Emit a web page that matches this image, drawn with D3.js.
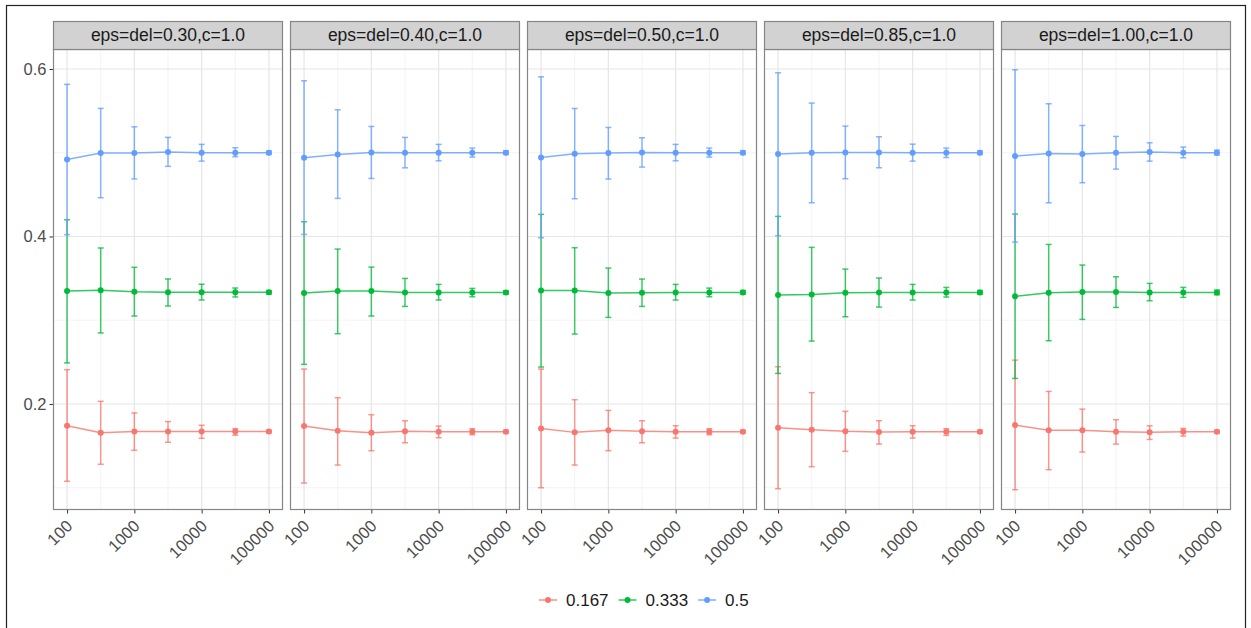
<!DOCTYPE html>
<html>
<head>
<meta charset="utf-8">
<script src="https://cdn.jsdelivr.net/npm/d3@7"></script>
<style>
  body { margin: 0; background: #fff; }
  svg { display: block; font-family: "Liberation Sans", Arial, sans-serif; }
</style>
</head>
<body>
<div id="chart"></div>
<script>
// facet labels, x values and groups
var facets = ["eps=del=0.30,c=1.0", "eps=del=0.40,c=1.0", "eps=del=0.50,c=1.0", "eps=del=0.85,c=1.0", "eps=del=1.00,c=1.0"];
var nValues = [100, 316, 1000, 3162, 10000, 31623, 100000];
var groups = ["0.167", "0.333", "0.5"];
var groupColors = ["#F8766D", "#00BA38", "#619CFF"];
var xTicks = [100, 1000, 10000, 100000];
var yTicks = [0.2, 0.4, 0.6];
var yMinor = [0.1, 0.3, 0.5];

// one row per facet, one value per n
var mean167 = [
  [0.174, 0.1657, 0.167, 0.167, 0.167, 0.167, 0.167],
  [0.1736, 0.1681, 0.1657, 0.1673, 0.1669, 0.1669, 0.1669],
  [0.1708, 0.1661, 0.1685, 0.1673, 0.1669, 0.1669, 0.1669],
  [0.1716, 0.1692, 0.1673, 0.1665, 0.1669, 0.1669, 0.1669],
  [0.1748, 0.1685, 0.1685, 0.1669, 0.1661, 0.1669, 0.1669]
];
var lo167 = [
  [0.1077, 0.128, 0.1447, 0.1543, 0.159, 0.1627, 0.1653],
  [0.1056, 0.1271, 0.1442, 0.1537, 0.1597, 0.1633, 0.1653],
  [0.100, 0.1271, 0.1442, 0.1537, 0.1593, 0.1633, 0.1653],
  [0.0988, 0.1251, 0.1434, 0.1521, 0.1593, 0.1625, 0.1653],
  [0.0976, 0.1215, 0.1426, 0.1521, 0.1577, 0.1617, 0.1653]
];
var hi167 = [
  [0.241, 0.2032, 0.1893, 0.179, 0.1746, 0.1705, 0.1687],
  [0.2417, 0.2075, 0.1872, 0.180, 0.1736, 0.1704, 0.1685],
  [0.2417, 0.2051, 0.1923, 0.180, 0.174, 0.1704, 0.1685],
  [0.2445, 0.2135, 0.1912, 0.180, 0.174, 0.1704, 0.1685],
  [0.2524, 0.215, 0.1939, 0.1812, 0.174, 0.1708, 0.1685]
];
var mean333 = [
  [0.335, 0.3357, 0.334, 0.3333, 0.3333, 0.3333, 0.3333],
  [0.3324, 0.3348, 0.3348, 0.3332, 0.3332, 0.3332, 0.3332],
  [0.3356, 0.3356, 0.3324, 0.3328, 0.3332, 0.3332, 0.3332],
  [0.330, 0.3308, 0.3328, 0.3332, 0.3332, 0.3332, 0.3332],
  [0.3285, 0.3328, 0.3336, 0.3336, 0.3332, 0.3332, 0.3332]
];
var lo333 = [
  [0.249, 0.2848, 0.305, 0.317, 0.3242, 0.3278, 0.3312],
  [0.2473, 0.2839, 0.305, 0.3165, 0.3241, 0.328, 0.3312],
  [0.2441, 0.2835, 0.3034, 0.3165, 0.3241, 0.3281, 0.3312],
  [0.2365, 0.2751, 0.3042, 0.3157, 0.3241, 0.3277, 0.3312],
  [0.2305, 0.2755, 0.301, 0.3153, 0.3233, 0.3273, 0.3304]
];
var hi333 = [
  [0.420, 0.3863, 0.3632, 0.3493, 0.343, 0.3385, 0.3354],
  [0.4176, 0.385, 0.3635, 0.3499, 0.3428, 0.338, 0.3352],
  [0.4264, 0.3866, 0.3623, 0.3492, 0.3428, 0.3384, 0.3356],
  [0.424, 0.387, 0.3611, 0.3504, 0.3428, 0.3392, 0.3356],
  [0.4268, 0.3905, 0.3659, 0.3519, 0.344, 0.3392, 0.336]
];
var mean500 = [
  [0.492, 0.4997, 0.4997, 0.501, 0.500, 0.500, 0.500],
  [0.494, 0.498, 0.5004, 0.500, 0.500, 0.500, 0.500],
  [0.4944, 0.4988, 0.4996, 0.5004, 0.500, 0.500, 0.500],
  [0.4984, 0.500, 0.5004, 0.5004, 0.500, 0.500, 0.500],
  [0.496, 0.4992, 0.4984, 0.500, 0.5008, 0.500, 0.500]
];
var lo500 = [
  [0.4022, 0.4463, 0.4687, 0.4838, 0.490, 0.4953, 0.498],
  [0.4025, 0.4455, 0.4693, 0.482, 0.4904, 0.4948, 0.498],
  [0.3985, 0.4451, 0.4686, 0.4829, 0.4904, 0.4948, 0.498],
  [0.4009, 0.4403, 0.469, 0.4821, 0.490, 0.4944, 0.498],
  [0.3933, 0.4403, 0.4642, 0.4805, 0.490, 0.494, 0.4972]
];
var hi500 = [
  [0.5817, 0.553, 0.531, 0.5184, 0.510, 0.506, 0.502],
  [0.586, 0.5513, 0.5314, 0.5183, 0.510, 0.5056, 0.5024],
  [0.5907, 0.5529, 0.5302, 0.5179, 0.510, 0.5056, 0.5024],
  [0.5955, 0.5593, 0.5318, 0.5191, 0.5103, 0.5056, 0.5024],
  [0.5991, 0.5585, 0.5326, 0.5195, 0.5119, 0.5068, 0.5032]
];

var means = [mean167, mean333, mean500];
var los = [lo167, lo333, lo500];
var his = [hi167, hi333, hi500];

var W = 1251, H = 628;
var panelLeft = 53, panelW = 230, panelGap = 7;
var stripTop = 21, stripH = 28;
var plotTop = stripTop + stripH, plotBottom = 510;
var pad = Math.pow(10, 0.209);

var svg = d3.select("#chart").append("svg")
    .attr("width", W)
    .attr("height", H);

svg.append("rect")
    .attr("width", W).attr("height", H)
    .attr("fill", "#fff");

// outer frame
svg.append("rect")
    .attr("x", 6.5).attr("y", 5.5)
    .attr("width", 1239).attr("height", 640)
    .attr("fill", "none")
    .attr("stroke", "#222")
    .attr("stroke-width", 1.2);

var y = d3.scaleLinear()
    .domain([0.0734, 0.6239])
    .range([plotBottom, plotTop]);

// y axis (left of first panel only)
var yAxis = svg.append("g")
    .attr("transform", "translate(" + panelLeft + ",0)")
    .call(d3.axisLeft(y).tickValues(yTicks).tickSize(3.5).tickPadding(3).tickFormat(d3.format(".1f")));
yAxis.select(".domain").remove();
yAxis.selectAll(".tick line").attr("stroke", "#333");
yAxis.selectAll(".tick text")
    .attr("fill", "#4d4d4d")
    .style("font-size", "16.5px");

facets.forEach(function(label, fi) {
    var x0 = panelLeft + fi * (panelW + panelGap);
    var x = d3.scaleLog()
        .domain([100 / pad, 100000 * pad])
        .range([x0, x0 + panelW]);

    var g = svg.append("g").attr("class", "panel");

    // grid
    g.selectAll("line.ymin").data(yMinor).enter().append("line")
        .attr("x1", x0).attr("x2", x0 + panelW)
        .attr("y1", function(d) { return y(d); })
        .attr("y2", function(d) { return y(d); })
        .attr("stroke", "#f0f0f0").attr("stroke-width", 0.8);
    g.selectAll("line.xmin").data(nValues.filter(function(d) { return xTicks.indexOf(d) < 0; })).enter().append("line")
        .attr("y1", plotTop).attr("y2", plotBottom)
        .attr("x1", function(d) { return x(d); })
        .attr("x2", function(d) { return x(d); })
        .attr("stroke", "#f0f0f0").attr("stroke-width", 0.8);
    g.selectAll("line.ymaj").data(yTicks).enter().append("line")
        .attr("x1", x0).attr("x2", x0 + panelW)
        .attr("y1", function(d) { return y(d); })
        .attr("y2", function(d) { return y(d); })
        .attr("stroke", "#e6e6e6").attr("stroke-width", 1.2);
    g.selectAll("line.xmaj").data(xTicks).enter().append("line")
        .attr("y1", plotTop).attr("y2", plotBottom)
        .attr("x1", function(d) { return x(d); })
        .attr("x2", function(d) { return x(d); })
        .attr("stroke", "#e6e6e6").attr("stroke-width", 1.2);

    // series
    groups.forEach(function(grp, gi) {
        var col = groupColors[gi];
        var rows = nValues.map(function(n, k) {
            return { n: n, m: means[gi][fi][k], lo: los[gi][fi][k], hi: his[gi][fi][k] };
        });
        var sg = g.append("g");

        sg.selectAll("line.err").data(rows).enter().append("line")
            .attr("x1", function(d) { return x(d.n); })
            .attr("x2", function(d) { return x(d.n); })
            .attr("y1", function(d) { return y(d.lo); })
            .attr("y2", function(d) { return y(d.hi); })
            .attr("stroke", col).attr("stroke-width", 1.5).attr("stroke-opacity", 0.75);
        ["lo", "hi"].forEach(function(key) {
            sg.selectAll("line.cap" + key).data(rows).enter().append("line")
                .attr("x1", function(d) { return x(d.n) - 3; })
                .attr("x2", function(d) { return x(d.n) + 3; })
                .attr("y1", function(d) { return y(d[key]); })
                .attr("y2", function(d) { return y(d[key]); })
                .attr("stroke", col).attr("stroke-width", 1.5).attr("stroke-opacity", 0.75);
        });

        sg.append("path")
            .datum(rows)
            .attr("fill", "none")
            .attr("stroke", col)
            .attr("stroke-width", 1.5)
            .attr("stroke-opacity", 0.8)
            .attr("d", d3.line()
                .x(function(d) { return x(d.n); })
                .y(function(d) { return y(d.m); }));

        sg.selectAll("circle").data(rows).enter().append("circle")
            .attr("cx", function(d) { return x(d.n); })
            .attr("cy", function(d) { return y(d.m); })
            .attr("r", 3)
            .attr("fill", col);
    });

    // panel border
    g.append("rect")
        .attr("x", x0 + 0.5).attr("y", plotTop + 0.5)
        .attr("width", panelW - 1).attr("height", plotBottom - plotTop - 1)
        .attr("fill", "none").attr("stroke", "#858585").attr("stroke-width", 1.2);

    // strip
    g.append("rect")
        .attr("x", x0 + 0.5).attr("y", stripTop + 0.5)
        .attr("width", panelW - 1).attr("height", stripH)
        .attr("fill", "#d2d2d2").attr("stroke", "#858585").attr("stroke-width", 1.2);
    g.append("text")
        .attr("x", x0 + panelW / 2).attr("y", stripTop + stripH / 2 + 1)
        .attr("text-anchor", "middle")
        .attr("dominant-baseline", "middle")
        .attr("fill", "#1a1a1a")
        .style("font-size", "17.5px")
        .text(label);

    // x axis
    var xAxis = g.append("g")
        .attr("transform", "translate(0," + plotBottom + ")")
        .call(d3.axisBottom(x).tickValues(xTicks).tickSize(3.5).tickFormat(d3.format("d")));
    xAxis.select(".domain").remove();
    xAxis.selectAll(".tick line").attr("stroke", "#333");
    xAxis.selectAll(".tick text")
        .attr("fill", "#4d4d4d")
        .style("font-size", "16.5px")
        .attr("text-anchor", "end")
        .attr("y", 0).attr("dy", 0)
        .attr("transform", "translate(6,17) rotate(-45)");
});

// legend
var legend = svg.append("g").attr("transform", "translate(0,600)");
var lx = 539;
groups.forEach(function(grp, gi) {
    var item = legend.append("g").attr("transform", "translate(" + lx + ",0)");
    item.append("line")
        .attr("x1", 0).attr("x2", 18).attr("y1", 0).attr("y2", 0)
        .attr("stroke", groupColors[gi]).attr("stroke-width", 1.5).attr("stroke-opacity", 0.8);
    item.append("circle")
        .attr("cx", 9).attr("cy", 0).attr("r", 3)
        .attr("fill", groupColors[gi]);
    var t = item.append("text")
        .attr("x", 27).attr("y", 0)
        .attr("dominant-baseline", "central")
        .attr("fill", "#1a1a1a")
        .style("font-size", "17px")
        .text(grp);
    lx += 27 + t.node().getComputedTextLength() + 10;
});
</script>
</body>
</html>
